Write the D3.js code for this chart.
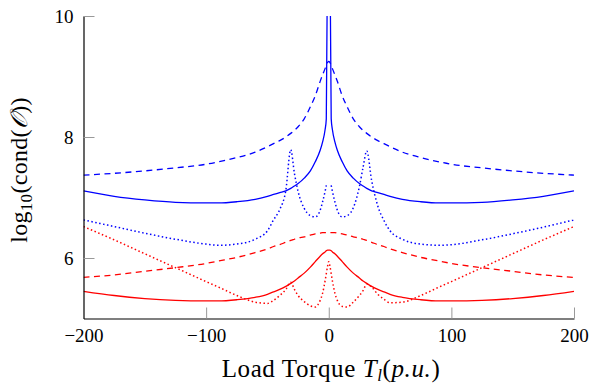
<!DOCTYPE html>
<html>
<head>
<meta charset="utf-8">
<script src="https://cdn.jsdelivr.net/npm/d3@7"></script>
<style>
  body { margin: 0; background: #fff; }
  text { font-family: "Liberation Serif", "DejaVu Serif", serif; fill: #000; }
</style>
</head>
<body>
<div id="cond-chart"></div>
<script>
// load torque samples (p.u.)
const torque = [-200, -175, -150, -125, -100, -90, -75, -60, -50, -45, -40, -35, -31, -28, -25, -20, -15, -11, -7, -5, -3, -2, -1, 0,
  1, 2, 3, 5, 7, 11, 15, 20, 25, 28, 31, 35, 40, 45, 50, 60, 75, 90, 100, 125, 150, 175, 200]

// log10(cond(O)), null = not drawn
const blueDashed = [7.37, 7.40, 7.44, 7.49, 7.55, 7.59, 7.66, 7.75, 7.84, 7.89, 7.94, 8.00, 8.06, 8.11, 8.17, 8.30, 8.50, 8.68, 8.92, 9.03, 9.13, 9.19, 9.23, 9.25,
  9.23, 9.19, 9.13, 9.03, 8.92, 8.68, 8.50, 8.30, 8.17, 8.11, 8.06, 8.00, 7.94, 7.89, 7.84, 7.75, 7.66, 7.59, 7.55, 7.49, 7.44, 7.40, 7.37]
const blueSolid = [7.11, 7.02, 6.96, 6.92, 6.91, 6.91, 6.93, 6.97, 7.02, 7.05, 7.08, 7.11, 7.15, 7.19, 7.23, 7.32, 7.44, 7.59, 7.78, 7.92, 8.12, 8.30, 11.0, null,
  11.0, 8.30, 8.12, 7.92, 7.78, 7.59, 7.44, 7.32, 7.23, 7.19, 7.15, 7.11, 7.08, 7.05, 7.02, 6.97, 6.93, 6.91, 6.91, 6.92, 6.96, 7.02, 7.11]
const blueDotted = [6.63, 6.52, 6.41, 6.31, 6.23, 6.21, 6.23, 6.31, 6.45, 6.63, 6.80, 7.12, 7.79, 7.40, 7.10, 6.82, 6.70, 6.68, 6.79, 6.93, 7.10, 7.20, null, null,
  null, 7.20, 7.10, 6.93, 6.79, 6.68, 6.70, 6.83, 7.18, 7.50, 7.77, 7.28, 6.86, 6.62, 6.45, 6.31, 6.23, 6.21, 6.22, 6.30, 6.40, 6.51, 6.63]
const redDashed = [5.68, 5.72, 5.78, 5.84, 5.91, 5.95, 6.01, 6.09, 6.15, 6.19, 6.22, 6.26, 6.29, 6.31, 6.33, 6.35, 6.38, 6.40, 6.41, 6.42, 6.42, 6.42, 6.42, 6.42,
  6.42, 6.42, 6.42, 6.42, 6.41, 6.40, 6.38, 6.35, 6.33, 6.31, 6.29, 6.26, 6.22, 6.19, 6.15, 6.09, 6.01, 5.95, 5.91, 5.84, 5.78, 5.72, 5.68]
const redSolid = [5.45, 5.38, 5.33, 5.30, 5.29, 5.29, 5.31, 5.35, 5.40, 5.44, 5.48, 5.53, 5.58, 5.62, 5.67, 5.75, 5.85, 5.94, 6.03, 6.07, 6.10, 6.12, 6.13, 6.13,
  6.13, 6.12, 6.10, 6.07, 6.03, 5.94, 5.85, 5.75, 5.67, 5.62, 5.58, 5.53, 5.48, 5.44, 5.40, 5.35, 5.31, 5.29, 5.29, 5.30, 5.33, 5.38, 5.45]
const redDotted = [6.52, 6.30, 6.07, 5.84, 5.61, 5.52, 5.38, 5.27, 5.25, 5.30, 5.38, 5.48, 5.60, 5.48, 5.38, 5.28, 5.21, 5.19, 5.30, 5.42, 5.62, 5.74, 5.86, 5.94,
  5.86, 5.74, 5.62, 5.42, 5.30, 5.20, 5.19, 5.27, 5.38, 5.46, 5.57, 5.52, 5.40, 5.32, 5.26, 5.27, 5.38, 5.52, 5.61, 5.84, 6.07, 6.30, 6.52]

const xTicks = [-200, -100, 0, 100, 200]
const yTicks = [6, 8, 10]

const width = 592
const height = 385
const plot = {left: 83.5, right: 574, top: 16, bottom: 318.5}
const tickLength = 11

const series = [
  {values: blueDashed, color: "#0000ff", dash: "6,4.5"},
  {values: blueSolid, color: "#0000ff", dash: null},
  {values: blueDotted, color: "#0000ff", dash: "1.5,2.5"},
  {values: redDashed, color: "#ff0000", dash: "6,4.5"},
  {values: redSolid, color: "#ff0000", dash: null},
  {values: redDotted, color: "#ff0000", dash: "1.5,2.5"}
]

const svg = d3.select("#cond-chart")
  .append("svg")
  .attr("width", width)
  .attr("height", height)

const xScale = d3.scaleLinear().domain([-200, 200]).range([plot.left, plot.right])
const yScale = d3.scaleLinear().domain([5, 10]).range([plot.bottom, plot.top])

svg.append("clipPath")
  .attr("id", "plot-clip")
  .append("rect")
  .attr("x", plot.left)
  .attr("y", plot.top)
  .attr("width", plot.right - plot.left)
  .attr("height", plot.bottom - plot.top)

const line = d3.line()
  .defined(d => d[1] !== null)
  .x(d => xScale(d[0]))
  .y(d => yScale(d[1]))
  .curve(d3.curveMonotoneX)

const lines = svg.append("g").attr("clip-path", "url(#plot-clip)")
series.forEach(s => {
  lines.append("path")
    .datum(torque.map((t, i) => [t, s.values[i]]))
    .attr("fill", "none")
    .attr("stroke", s.color)
    .attr("stroke-width", s.dash === "1.5,2.5" ? 1.5 : 1.3)
    .attr("stroke-dasharray", s.dash)
    .attr("d", line)
})

// axes: left and bottom only, ticks pointing inward
const xAxis = svg.append("g")
  .attr("transform", `translate(0, ${plot.bottom})`)
  .call(d3.axisBottom(xScale).tickValues(xTicks).tickSizeInner(-tickLength).tickSizeOuter(0).tickPadding(10)
    .tickFormat(d => d < 0 ? "\u2212" + Math.abs(d) : d))

const yAxis = svg.append("g")
  .attr("transform", `translate(${plot.left}, 0)`)
  .call(d3.axisLeft(yScale).tickValues(yTicks).tickSizeInner(-tickLength).tickSizeOuter(0).tickPadding(10)
    .tickFormat(d3.format("d")))

;[xAxis, yAxis].forEach(ax => {
  ax.select(".domain").attr("stroke", "#000").attr("stroke-width", 1.2)
  ax.selectAll(".tick line").attr("stroke", "#999").attr("stroke-width", 1)
  ax.selectAll(".tick text").attr("font-size", 19).attr("font-family", null).attr("fill", "#000")
})
xAxis.selectAll(".tick").filter(d => d === -200).select("line").remove()

// axis titles
const xLabel = svg.append("text")
  .attr("x", 331)
  .attr("y", 377)
  .attr("text-anchor", "middle")
  .attr("font-size", 25)
  .attr("letter-spacing", 0.6)
xLabel.append("tspan").text("Load Torque ")
xLabel.append("tspan").attr("font-style", "italic").text("T")
xLabel.append("tspan").attr("font-style", "italic").attr("font-size", 17).attr("dy", 4).text("l")
xLabel.append("tspan").attr("dy", -4).text("(")
xLabel.append("tspan").attr("font-style", "italic").text("p.u.")
xLabel.append("tspan").text(")")

const yLabel = svg.append("text")
  .attr("transform", "translate(27, 170) rotate(-90)")
  .attr("text-anchor", "middle")
  .attr("font-size", 24)
  .attr("letter-spacing", 0.3)
yLabel.append("tspan").text("log")
yLabel.append("tspan").attr("font-size", 17).attr("dy", 5).text("10")
yLabel.append("tspan").attr("dy", -5).text("(cond(")
yLabel.append("tspan").attr("font-style", "italic").text("\u{1D4AA}")
yLabel.append("tspan").text("))")
</script>
</body>
</html>
